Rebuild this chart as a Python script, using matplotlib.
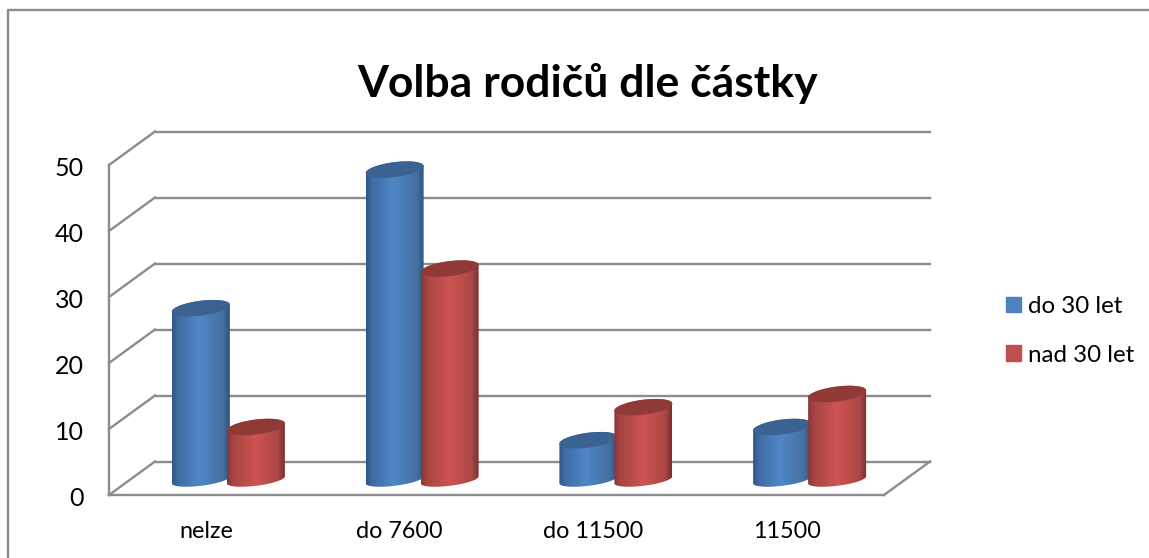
import numpy as np
import matplotlib.pyplot as plt
from matplotlib.colors import LinearSegmentedColormap
from matplotlib.lines import Line2D
from matplotlib.patches import Patch, Polygon
from matplotlib.transforms import ScaledTranslation

plt.rcParams['font.family'] = ['Lato', 'DejaVu Sans']

# data
categories = ['nelze', 'do 7600', 'do 11500', '11500']
do_30 = [26, 47, 6, 8]
nad_30 = [8, 32, 11, 13]
y_ticks = [0, 10, 20, 30, 40, 50]

W, H = 1149, 558
grid_col = '#8c8c8c'

# pixel geometry of the pseudo 3D box
left, right_back, y0_px = 109, 930, 495
px_per_cat = 193.75
px_per_val = 6.6
depth_x = 46 / px_per_cat
depth_y = 33.5 / px_per_val
top_val = 50 + depth_y

fig = plt.figure(figsize=(W / 100, H / 100), dpi=100)
ax = fig.add_axes([left / W, 1 - y0_px / H, (right_back - left) / W, top_val * px_per_val / H])
ax.set_xlim(-0.5, 3.5 + depth_x)
ax.set_ylim(0, top_val)
for s in ax.spines.values():
    s.set_visible(False)

# walls and floor
lw = 1.7
for v in y_ticks:
    ax.plot([-0.5 + depth_x, 3.5 + depth_x], [v + depth_y, v + depth_y], color=grid_col, lw=lw, clip_on=False, zorder=1)
    ax.plot([-0.5, -0.5 + depth_x], [v, v + depth_y], color=grid_col, lw=lw, clip_on=False, zorder=1)
ax.plot([-0.5, -0.5], [0, 50], color=grid_col, lw=lw, clip_on=False, zorder=1)
ax.plot([-0.5, 3.5], [0, 0], color=grid_col, lw=lw, clip_on=False, zorder=1)
ax.plot([3.5, 3.5 + depth_x], [0, depth_y], color=grid_col, lw=lw, clip_on=False, zorder=1)

blue_map = LinearSegmentedColormap.from_list('b', [(0, '#2f5583'), (0.1, '#3f6ca3'), (0.47, '#5086c8'), (0.88, '#44709f'), (1, '#2f5583')])
red_map = LinearSegmentedColormap.from_list('r', [(0, '#873634'), (0.1, '#a64543'), (0.5, '#ce5451'), (0.88, '#ab4745'), (1, '#773030')])


def cylinder(xc, value, cmap, top_col, z):
    a = 29 / px_per_cat
    b = 7.5 / px_per_val
    b_low = 6 / px_per_val
    slope = 3.5 / px_per_val
    base = 2.3
    t = np.linspace(0, 2 * np.pi, 120)
    ex = xc + a * np.cos(t)
    ey = slope * np.cos(t) + b * np.sin(t)
    ey_low = slope * np.cos(t) + b_low * np.sin(t)
    # body outline: lower half of base ellipse plus upper half of top ellipse
    low = t > np.pi
    body = np.column_stack([np.r_[ex[low], ex[~low]], np.r_[base + ey_low[low], base + value + ey[~low]]])
    poly = Polygon(body, closed=True, transform=ax.transData, fc='none', ec='none')
    ax.add_patch(poly)
    grad = np.linspace(0, 1, 200).reshape(1, -1)
    im = ax.imshow(grad, cmap=cmap, extent=[xc - a, xc + a, base - 2, base + value + 2],
                   aspect='auto', zorder=z, interpolation='bilinear')
    im.set_clip_path(poly)
    ax.fill(ex, base + value + ey, color=top_col, lw=0, zorder=z + 0.1)


bar_w = 55 / px_per_cat
centre = 22.5 / px_per_cat
for i in range(len(categories)):
    cylinder(i + centre - bar_w / 2, do_30[i], blue_map, '#3b6391', 2 + i)
    cylinder(i + centre + bar_w / 2, nad_30[i], red_map, '#903a38', 2.5 + i)
ax.set_xlim(-0.5, 3.5 + depth_x)
ax.set_ylim(0, top_val)

ax.set_yticks(y_ticks)
ax.set_yticklabels([str(v) for v in y_ticks], fontsize=18, color='black')
ax.set_xticks(range(len(categories)))
ax.set_xticklabels(categories, fontsize=16.8, color='black')
ax.tick_params(axis='y', length=0, pad=18)
ax.tick_params(axis='x', length=0, pad=18.5)

# y labels sit a little under their level in the reference
shift = ScaledTranslation(0, -2 / 100, fig.dpi_scale_trans)
for lab in ax.get_yticklabels():
    lab.set_transform(lab.get_transform() + shift)

fig.text(588 / W, 1 - 83 / H, 'Volba rodičů dle částky', fontsize=32, fontweight='bold', ha='center', va='center')

handles = [Patch(color='#4f81bd', label='do 30 let'), Patch(color='#c0504d', label='nad 30 let')]
fig.legend(handles=handles, loc='upper left', bbox_to_anchor=(1006 / W, 1 - 296 / H), frameon=False,
           fontsize=17.4, handlelength=0.62, handleheight=0.62, handletextpad=0.28, labelspacing=1.15,
           borderpad=0, borderaxespad=0)

# chart frame, only left and top sides show
fig.add_artist(Line2D([8 / W, 8 / W, 1], [0, 1 - 10 / H, 1 - 10 / H], color=grid_col, lw=1.7))

fig.savefig('out.png', dpi=100)
